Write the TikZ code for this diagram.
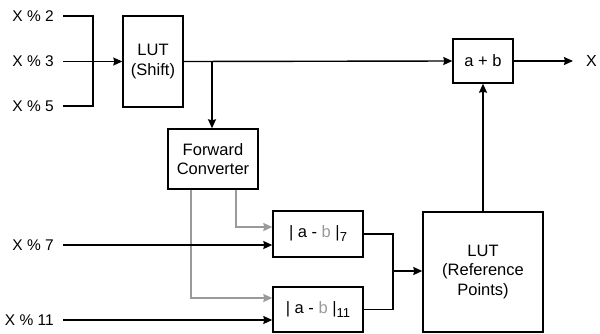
\documentclass[tikz,border=0pt]{standalone}
\usepackage{fontspec}
\setmainfont{Liberation Sans}
\usetikzlibrary{arrows.meta}
\definecolor{lightline}{HTML}{9A9A9A}
\tikzset{
  blk/.style={draw, line width=1.4pt, inner sep=0pt, align=center,
    font=\fontsize{16.5}{19.5}\selectfont},
  lbl/.style={inner sep=0pt, anchor=east, font=\fontsize{15.5}{17}\selectfont},
  wire/.style={line width=1.4pt},
  arr/.style={wire, -{Stealth[length=9pt,width=8pt,inset=1pt]}},
  garr/.style={arr, draw=lightline},
}
\begin{document}
\begin{tikzpicture}[x=1pt,y=-1pt]
\useasboundingbox (0,0) rectangle (600,333);
% input residues
\node[lbl] (x2) at (54,16) {X \% 2};
\node[lbl] (x3) at (54,61.5) {X \% 3};
\node[lbl] (x5) at (54,106) {X \% 5};
\node[lbl] (x7) at (54,245) {X \% 7};
\node[lbl] (x11) at (54,320) {X \% 11};
% processing blocks
\node[blk, minimum width=60, minimum height=91] (lutS) at (153,61.5) {LUT\\(Shift)};
\node[blk, minimum width=60, minimum height=44] (add) at (483,61) {a + b};
\node[blk, minimum width=90, minimum height=60] (fc) at (213,159) {Forward\\Converter};
\node[blk, minimum width=90, minimum height=46] (d7) at (318,234)
  {| a - {\color{lightline}b} |\raisebox{-4pt}{\fontsize{13}{13}\selectfont 7}};
\node[blk, minimum width=90, minimum height=45] (d11) at (318,309.5)
  {| a - {\color{lightline}b} |\raisebox{-4pt}{\fontsize{13}{13}\selectfont 11}};
\node[blk, minimum width=120, minimum height=120] (lutR) at (483,272) {LUT\\(Reference\\Points)};
\node[inner sep=0pt, anchor=west, font=\fontsize{16}{17}\selectfont] (xo) at (586,61) {X};
% junction points
\coordinate (j1) at (93,61.5);
\coordinate (b1) at (212,61.5);
\coordinate (j2) at (393,271);
% connectors
\draw[wire] ([xshift=9pt]x2.east) -| (j1);
\draw[wire] ([xshift=9pt]x5.east) -| (j1);
\draw[arr] ([xshift=9pt]x3.east) -- (lutS.west);
\draw[arr] (lutS.east) -- (add.west);
\draw[arr] (b1) -- (b1 |- fc.north);
\draw[garr] ([xshift=23pt]fc.south) |- ([yshift=7pt]d7.west);
\draw[garr] ([xshift=-22pt]fc.south) |- ([yshift=11.5pt]d11.west);
\draw[arr] ([xshift=9pt]x7.east) -- (d7.west |- x7.east);
\draw[arr] ([xshift=9pt]x11.east) -- (d11.west |- x11.east);
\draw[wire] (d7.east) -| (j2);
\draw[wire] (d11.east) -| (j2);
\draw[arr] (j2) -- (lutR.west |- j2);
\draw[arr] (lutR.north) -- (add.south);
\draw[arr] (add.east) -- ([xshift=-13pt]xo.west);
\end{tikzpicture}
\end{document}
